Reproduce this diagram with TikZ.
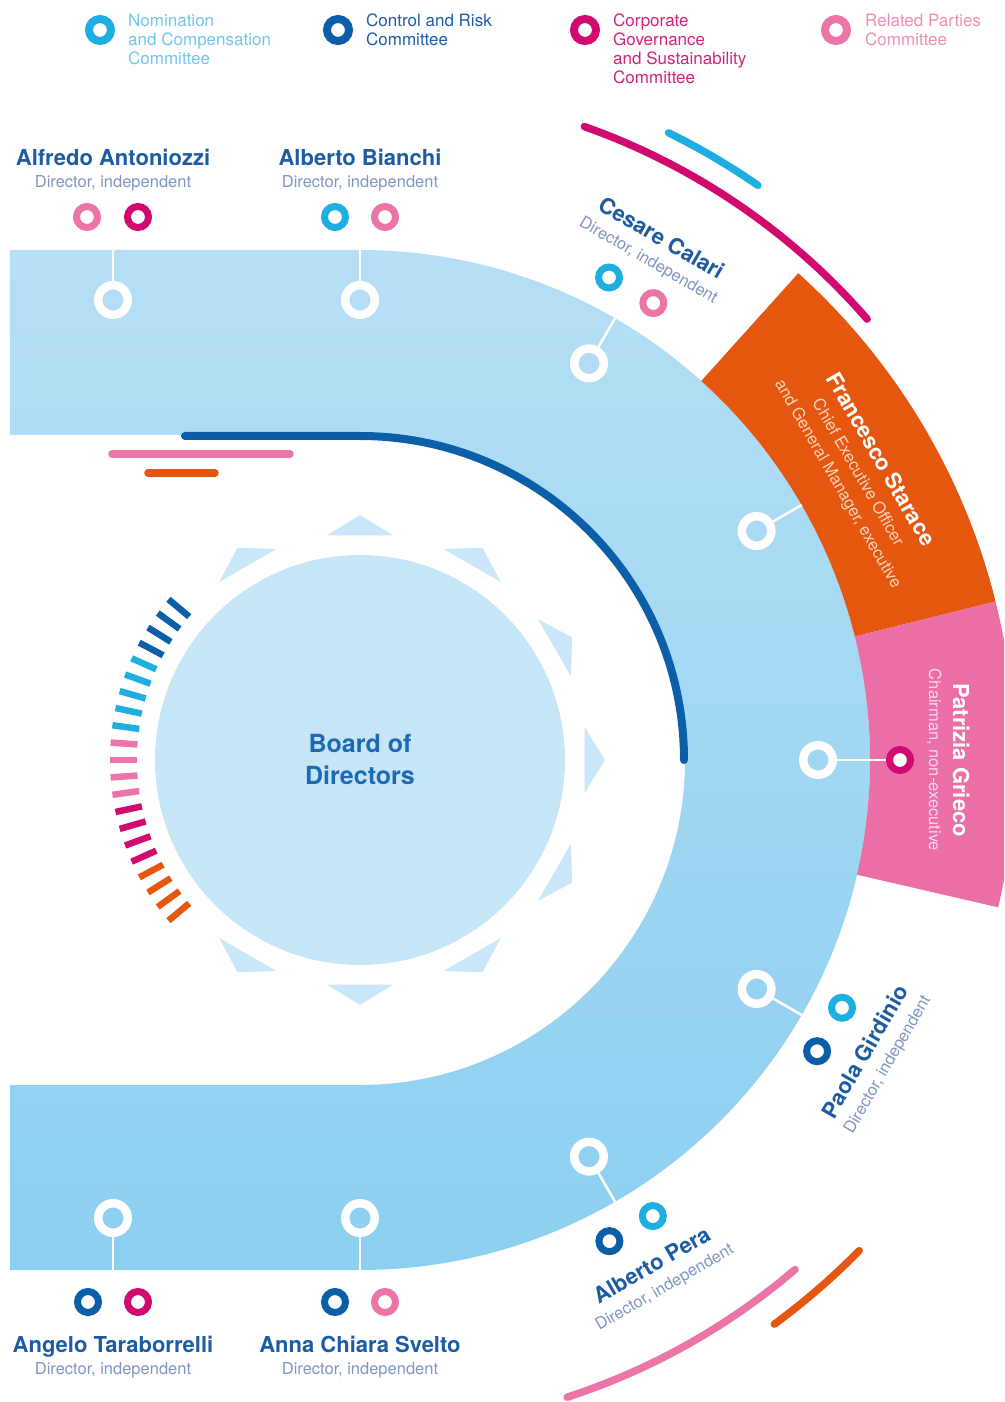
\documentclass[tikz,border=0pt]{standalone}
\usepackage{fontspec}
\setmainfont{TeX Gyre Heros}
\usetikzlibrary{positioning}
\definecolor{nomcyan}{HTML}{1FAEE2}
\definecolor{crblue}{HTML}{0B5EA8}
\definecolor{cgsmag}{HTML}{D10A70}
\definecolor{rppink}{HTML}{EA75A6}
\definecolor{ceoorange}{HTML}{E5560F}
\definecolor{chairpink}{HTML}{EC6EA6}
\definecolor{bandtop}{HTML}{B6DFF5}
\definecolor{bandmid}{HTML}{98D4F2}
\definecolor{bandlow}{HTML}{8CCFF0}
\definecolor{boardfill}{HTML}{C6E6F8}
\definecolor{startip}{HTML}{C9E7F8}
\definecolor{nameblue}{HTML}{1D5CA3}
\definecolor{roleblue}{HTML}{7F96C3}
\definecolor{boardtext}{HTML}{1B6AB3}
\definecolor{legnom}{HTML}{72C6EC}
\definecolor{legcr}{HTML}{1F5CA4}
\definecolor{legcgs}{HTML}{D42377}
\definecolor{legrp}{HTML}{EF8DB4}
\definecolor{ceorole}{HTML}{FCD5BD}
\definecolor{chairrole}{HTML}{FBD9E8}
\tikzset{memberring/.style={circle,draw=white,line width=8.5pt,minimum size=29.5pt,inner sep=0pt},comring/.style={circle,draw=#1,fill=white,line width=7pt,minimum size=21pt,inner sep=0pt},legring/.style={circle,draw=#1,fill=white,line width=8pt,minimum size=22pt,inner sep=0pt},link/.style={draw=white,line width=2.5pt},namelabel/.style={font=\fontsize{22}{26}\selectfont\bfseries,text=nameblue,inner sep=0pt,anchor=base},rolelabel/.style={font=\fontsize{16.5}{20}\selectfont,text=roleblue,inner sep=0pt,anchor=base},legtext/.style={font=\fontsize{17}{19}\selectfont,align=left,inner sep=0pt,anchor=north west},comarc/.style={line width=7.5pt,line cap=round}}
\begin{document}
\begin{tikzpicture}[x=1pt,y=1pt]
\clip (-360,-642) rectangle (644,760);
% members band and executive sectors
\shade[top color=bandtop,middle color=bandmid,bottom color=bandlow] (-350,510) -- (0,510) arc[start angle=90,end angle=-90,radius=510] -- (-350,-510) -- (-350,-325) -- (0,-325) arc[start angle=-90,end angle=90,radius=325] -- (-350,325) -- cycle;
\fill[ceoorange] (14:510) -- (14:655) arc[start angle=14,end angle=48,radius=655] -- (48:510) arc[start angle=48,end angle=14,radius=510] -- cycle;
\fill[chairpink] (-13:510) -- (-13:655) arc[start angle=-13,end angle=14,radius=655] -- (14:510) arc[start angle=14,end angle=-13,radius=510] -- cycle;
% board
\foreach \a in {-120,-90,...,120} \fill[startip] (\a:245) -- (\a+8.4:227) -- (\a-8.4:227) -- cycle;
\node[circle,fill=boardfill,minimum size=410pt,inner sep=0pt,font=\fontsize{25}{32}\selectfont\bfseries,text=boardtext,align=center] (board) at (0,0) {Board of\\Directors};
\foreach \c [count=\i from 0] in {crblue,crblue,crblue,crblue,nomcyan,nomcyan,nomcyan,nomcyan,nomcyan,rppink,rppink,rppink,rppink,cgsmag,cgsmag,cgsmag,cgsmag,ceoorange,ceoorange,ceoorange,ceoorange}
  \draw[\c,line width=6.5pt] ({140+4*\i}:223) -- ({140+4*\i}:250);
% committee arcs
\draw[crblue,line width=8pt,line cap=round] (-175,324) -- (0,324) arc[start angle=90,end angle=0,radius=324];
\draw[rppink,comarc] (-248,306) -- (-70,306);\draw[ceoorange,comarc] (-212,287) -- (-145,287);
\draw[cgsmag,comarc] (70.5:672) arc[start angle=70.5,end angle=41,radius=672];
\draw[nomcyan,comarc] (63.8:699) arc[start angle=63.8,end angle=55.3,radius=699];
\draw[rppink,comarc] (-72:670) arc[start angle=-72,end angle=-49.5,radius=670];
\draw[ceoorange,comarc] (-53.7:700) arc[start angle=-53.7,end angle=-44.5,radius=700];
% legend
\node[legring=nomcyan] (nom-key) at (-260,730) {};
\node[legtext,text=legnom] (nom-text) at (-232,746) {Nomination\\and Compensation\\Committee};
\node[legring=crblue] (cr-key) at (-22,730) {};
\node[legtext,text=legcr] (cr-text) at (6,746) {Control and Risk\\Committee};
\node[legring=cgsmag] (cgs-key) at (225,730) {};
\node[legtext,text=legcgs] (cgs-text) at (253,746) {Corporate\\Governance\\and Sustainability\\Committee};
\node[legring=rppink] (rp-key) at (476,730) {};
\node[legtext,text=legrp] (rp-text) at (505,746) {Related Parties\\Committee};
% members
\node[memberring] (antoniozzi) at (-247,460) {};
\node[memberring] (bianchi) at (0,460) {};
\node[memberring] (calari) at (60:458) {};
\node[memberring] (starace) at (30:458) {};
\node[memberring] (grieco) at (0:458) {};
\node[memberring] (girdinio) at (-30:458) {};
\node[memberring] (pera) at (-60:458) {};
\node[memberring] (svelto) at (0,-458) {};
\node[memberring] (taraborrelli) at (-247,-458) {};
\coordinate (antoniozzi-e) at (-247,510);\coordinate (bianchi-e) at (0,510);\coordinate (calari-e) at (60:510);\coordinate (starace-e) at (30:510);
\coordinate (girdinio-e) at (-30:510);\coordinate (pera-e) at (-60:510);\coordinate (svelto-e) at (0,-510);\coordinate (taraborrelli-e) at (-247,-510);
\node[comring=rppink] (antoniozzi-rp) at (-273,543) {};
\node[comring=cgsmag] (antoniozzi-cgs) at (-222,543) {};
\node[comring=nomcyan] (bianchi-nom) at (-25,543) {};
\node[comring=rppink] (bianchi-rp) at (25,543) {};
\node[comring=nomcyan] (calari-nom) at (62.7:543) {};
\node[comring=rppink] (calari-rp) at (57.3:543) {};
\node[comring=cgsmag] (grieco-cgs) at (0:540) {};
\node[comring=nomcyan] (girdinio-nom) at (-27.2:542) {};
\node[comring=crblue] (girdinio-cr) at (-32.5:542) {};
\node[comring=crblue] (pera-cr) at (-62.6:542) {};
\node[comring=nomcyan] (pera-nom) at (-57.3:542) {};
\node[comring=crblue] (svelto-cr) at (-25,-542) {};
\node[comring=rppink] (svelto-rp) at (25,-542) {};
\node[comring=crblue] (taraborrelli-cr) at (-272,-542) {};
\node[comring=cgsmag] (taraborrelli-cgs) at (-222,-542) {};
\draw[link] (antoniozzi)--(antoniozzi-e);\draw[link] (bianchi)--(bianchi-e);\draw[link] (calari)--(calari-e);\draw[link] (starace)--(starace-e);
\draw[link] (grieco)--(grieco-cgs);\draw[link] (girdinio)--(girdinio-e);\draw[link] (pera)--(pera-e);\draw[link] (svelto)--(svelto-e);\draw[link] (taraborrelli)--(taraborrelli-e);
% names
\node[namelabel] (antoniozzi-name) at (-247,594) {Alfredo Antoniozzi};
\node[rolelabel] (antoniozzi-role) at (-247,572) {Director, independent};
\node[namelabel] (bianchi-name) at (0,594) {Alberto Bianchi};
\node[rolelabel] (bianchi-role) at (0,572) {Director, independent};
\node[namelabel,rotate=-30] (calari-name) at (60:595) {Cesare Calari};
\node[rolelabel,rotate=-30] (calari-role) at (60:572) {Director, independent};
\node[namelabel,rotate=-60,text=white] (starace-name) at (30:594) {Francesco Starace};
\node[rolelabel,rotate=-60,text=ceorole] (starace-role) at (30:570) {Chief Executive Officer};
\node[rolelabel,rotate=-60,text=ceorole] (starace-role2) at (30:547) {and General Manager, executive};
\node[namelabel,rotate=-90,text=white] (grieco-name) at (0:593) {Patrizia Grieco};
\node[rolelabel,rotate=-90,text=chairrole] (grieco-role) at (0:569) {Chairman, non-executive};
\node[namelabel,rotate=60] (girdinio-name) at (-30:591) {Paola Girdinio};
\node[rolelabel,rotate=60] (girdinio-role) at (-30:614) {Director, independent};
\node[namelabel,rotate=30] (pera-name) at (-60:591) {Alberto Pera};
\node[rolelabel,rotate=30] (pera-role) at (-60:614) {Director, independent};
\node[namelabel] (svelto-name) at (0,-592) {Anna Chiara Svelto};
\node[rolelabel] (svelto-role) at (0,-614) {Director, independent};
\node[namelabel] (taraborrelli-name) at (-247,-592) {Angelo Taraborrelli};
\node[rolelabel] (taraborrelli-role) at (-247,-614) {Director, independent};
\end{tikzpicture}
\end{document}
